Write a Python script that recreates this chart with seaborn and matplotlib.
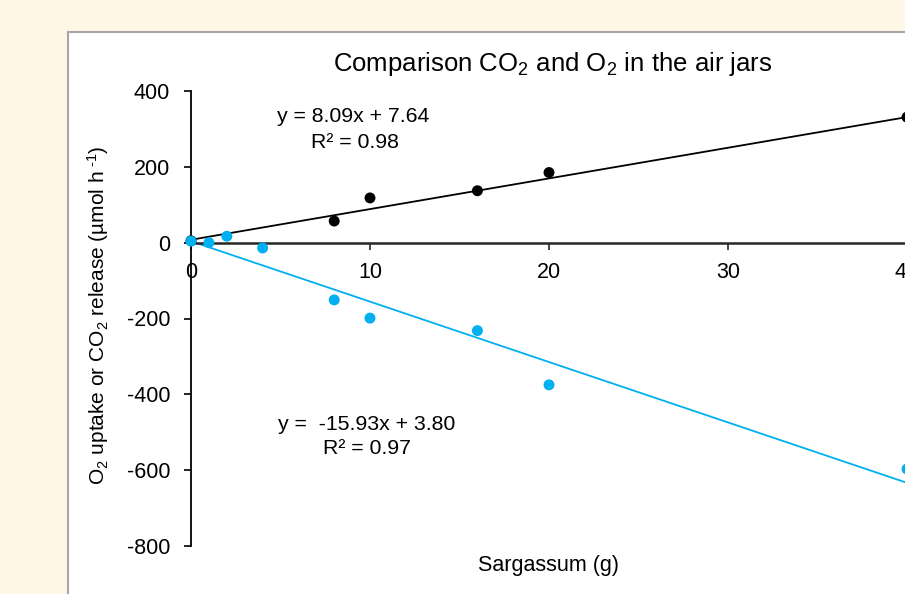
import matplotlib
matplotlib.use("Agg")
import matplotlib.pyplot as plt
import seaborn as sns
import numpy as np
import pandas as pd
from matplotlib.patches import Rectangle

sns.set_theme(style="white")
plt.rcParams['font.family'] = ['Liberation Sans', 'DejaVu Sans']
plt.rcParams['mathtext.fontset'] = 'custom'
plt.rcParams['mathtext.rm'] = 'Liberation Sans'
plt.rcParams['mathtext.it'] = 'Liberation Sans'
plt.rcParams['text.color'] = 'black'

# Data
co2_x = [0, 8, 10, 16, 20, 40]
co2_y = [5, 57, 118, 137, 185, 331]
o2_x = [0, 1, 2, 4, 8, 10, 16, 20, 40]
o2_y = [4, 0, 17, -14, -151, -199, -232, -375, -597]
co2_fit = [8.09, 7.64]   # slope, intercept
o2_fit = [-15.93, 3.80]
x_ticks = [0, 10, 20, 30, 40]
y_ticks = [400, 200, 0, -200, -400, -600, -800]

BLACK = "#000000"
BLUE = "#00B0F0"
BG = "#FFF7E6"

W, H = 905, 594
fig = plt.figure(figsize=(W / 100, H / 100), dpi=100)
fig.patch.set_facecolor(BG)

# chart area box (cropped at right/bottom)
fig.patches.append(Rectangle((68 / W, -0.1), 1.0, 1 - 32 / H + 0.1, transform=fig.transFigure,
                             facecolor="white", edgecolor="#A6A6A6", linewidth=1.5, zorder=-5))

ax = fig.add_axes([191 / W, 1 - 546 / H, (907 - 191) / W, (546 - 91) / H])
ax.set_facecolor("none")
ax.set_zorder(1)

df_co2 = pd.DataFrame({"x": co2_x, "y": co2_y})
df_o2 = pd.DataFrame({"x": o2_x, "y": o2_y})

xs = np.array([0, 40])
ax.plot(xs, co2_fit[0] * xs + co2_fit[1], color=BLACK, lw=1.3, zorder=2, clip_on=False)
ax.plot(xs, o2_fit[0] * xs + o2_fit[1], color=BLUE, lw=1.3, zorder=2, clip_on=False)

sns.scatterplot(data=df_co2, x="x", y="y", ax=ax, color=BLACK, s=62, edgecolor="none",
                zorder=3, clip_on=False)
sns.scatterplot(data=df_o2, x="x", y="y", ax=ax, color=BLUE, s=62, edgecolor="none",
                zorder=4, clip_on=False)

ax.set_xlim(0, 40)
ax.set_ylim(-800, 400)
ax.set_xticks(x_ticks)
ax.set_yticks(y_ticks)
ax.set_yticklabels([str(v) for v in y_ticks])

for s in ["top", "right"]:
    ax.spines[s].set_visible(False)
ax.spines["bottom"].set_position(("data", 0))
ax.spines["bottom"].set_color("#262626")
ax.spines["left"].set_color("#000000")
ax.spines["bottom"].set_linewidth(1.8)
ax.spines["left"].set_linewidth(1.3)

ax.tick_params(axis="x", direction="out", length=5, width=1.2, color="#262626", pad=9,
               labelsize=15.5, labelcolor="#000000", bottom=True)
ax.tick_params(axis="y", direction="out", length=5, width=1.2, color="#000000", pad=10,
               labelsize=15.5, labelcolor="#000000", left=True)

ax.set_xlabel("")
ax.set_ylabel("")

fig.text(553 / W, 1 - 64 / H, r"Comparison CO$_2$ and O$_2$ in the air jars",
         ha="center", va="center", fontsize=18.5, color="black")
fig.text(548 / W, 1 - 565 / H, "Sargassum (g)", ha="center", va="center", fontsize=15.5)
fig.text(98 / W, 1 - 315 / H, r"O$_2$ uptake or CO$_2$ release (µmol h$^{\text{ -1}}$)",
         ha="center", va="center", rotation=90, fontsize=15)

fig.text(353 / W, 1 - 117 / H, "y = 8.09x + 7.64", ha="center", va="center", fontsize=15.3)
fig.text(355 / W, 1 - 142 / H, "R² = 0.98", ha="center", va="center", fontsize=15.3)
fig.text(367 / W, 1 - 425 / H, "y =  -15.93x + 3.80", ha="center", va="center", fontsize=15.3)
fig.text(367 / W, 1 - 448 / H, "R² = 0.97", ha="center", va="center", fontsize=15.3)

fig.savefig("out.png", dpi=100, facecolor=BG)
